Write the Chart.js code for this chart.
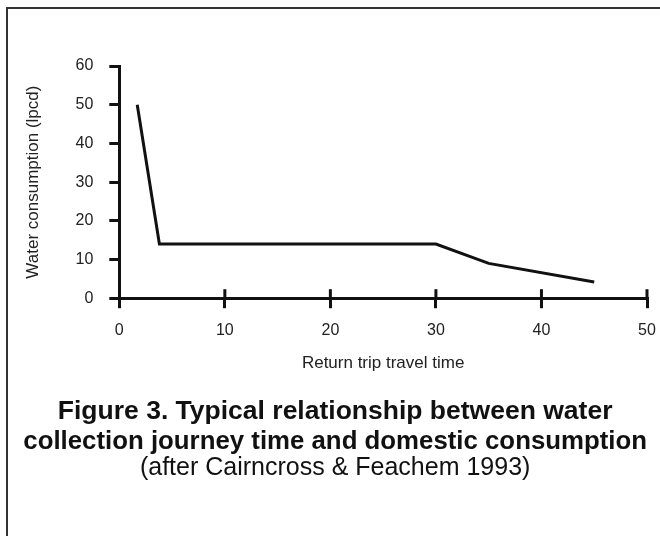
<!DOCTYPE html>
<html>
<head>
<meta charset="utf-8">
<script src="https://cdn.jsdelivr.net/npm/chart.js@4"></script>
<style>
  html, body { margin: 0; padding: 0; background: #fff; overflow: hidden; }
  #frame { position: absolute; left: 6px; top: 7px; width: 700px; height: 600px; border: 2px solid #333; }
  #myChart { position: absolute; left: 0; top: 0; }
</style>
</head>
<body>
<div id="frame"></div>
<canvas id="myChart" width="660" height="536"></canvas>
<script>
const travelTime = [1.7, 3.8, 30, 35, 45];
const consumption = [50, 14, 14, 9, 4.2];
const xTicks = [0, 10, 20, 30, 40, 50];
const yTicks = [0, 10, 20, 30, 40, 50, 60];

const fontFamily = "'Liberation Sans', Arial, Helvetica, sans-serif";

// the x ticks cross the axis line, chart.js only draws the outer half
const innerTicks = {
  id: 'innerTicks',
  afterDraw(chart) {
    const ctx = chart.ctx;
    const xScale = chart.scales.x;
    const bottom = chart.chartArea.bottom;
    ctx.save();
    ctx.strokeStyle = '#111';
    ctx.lineWidth = 3;
    xTicks.forEach(function(v) {
      if (v === 0) return;
      const px = xScale.getPixelForValue(v);
      ctx.beginPath();
      ctx.moveTo(px, bottom - 9);
      ctx.lineTo(px, bottom);
      ctx.stroke();
    });
    ctx.restore();
  }
};

const data = {
  datasets: [{
    label: 'Water consumption',
    data: travelTime.map(function(t, i) { return { x: t, y: consumption[i] }; }),
    borderColor: '#111',
    borderWidth: 3,
    pointRadius: 0,
    fill: false,
    tension: 0
  }]
};

const config = {
  type: 'line',
  data: data,
  options: {
    responsive: false,
    animation: false,
    layout: { padding: { left: 23.3, right: 13, top: 66, bottom: 55.5 } },
    scales: {
      x: {
        type: 'linear',
        min: 0,
        max: 50,
        afterBuildTicks: function(scale) { scale.ticks = xTicks.map(function(v) { return { value: v }; }); },
        // tick padding would otherwise push the right edge in
        afterFit: function(scale) { scale.paddingRight = 9; },
        ticks: { padding: 13, color: '#222', font: { family: fontFamily, size: 16 } },
        grid: { drawOnChartArea: false, drawTicks: true, tickLength: 10, color: '#111', lineWidth: 3 },
        border: { display: true, color: '#111', width: 3 },
        title: {
          display: true,
          text: 'Return trip travel time',
          color: '#222',
          font: { family: fontFamily, size: 17 },
          padding: { top: 0, bottom: 4 }
        }
      },
      y: {
        min: 0,
        max: 60,
        afterBuildTicks: function(scale) { scale.ticks = yTicks.map(function(v) { return { value: v }; }); },
        ticks: { padding: 16, color: '#222', font: { family: fontFamily, size: 16 } },
        grid: { drawOnChartArea: false, drawTicks: true, tickLength: 10, color: '#111', lineWidth: 3 },
        border: { display: true, color: '#111', width: 3 },
        title: {
          display: true,
          text: 'Water consumption (lpcd)',
          color: '#222',
          font: { family: fontFamily, size: 17 },
          padding: { top: 0, bottom: 15.8 }
        }
      }
    },
    plugins: {
      legend: { display: false },
      tooltip: { enabled: false },
      title: {
        display: true,
        position: 'bottom',
        weight: 1000,
        text: ['Figure 3. Typical relationship between water', 'collection journey time and domestic consumption'],
        color: '#111',
        font: { family: fontFamily, size: 26.5, weight: 'bold', lineHeight: 1.13 },
        padding: { top: 18.6, bottom: 0 }
      },
      subtitle: {
        display: true,
        position: 'bottom',
        weight: 1500,
        text: '(after Cairncross & Feachem 1993)',
        color: '#111',
        font: { family: fontFamily, size: 25, weight: 'normal', lineHeight: 1 },
        padding: { top: -0.8, bottom: 0 }
      }
    }
  },
  plugins: [innerTicks]
};

const myChart = new Chart(
  document.getElementById('myChart'),
  config
);
</script>
</body>
</html>
